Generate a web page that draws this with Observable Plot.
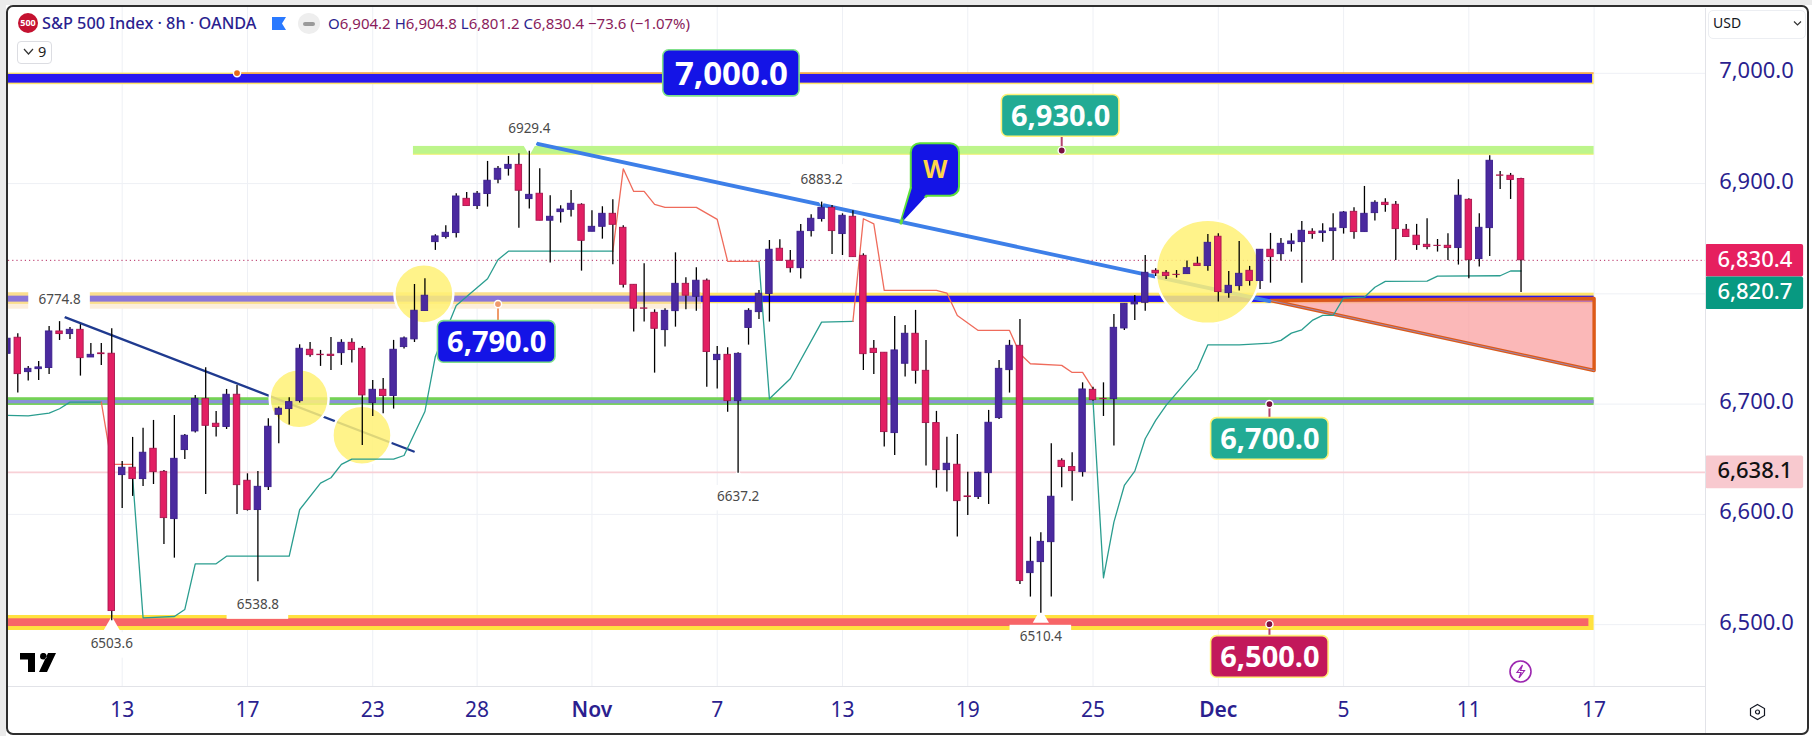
<!DOCTYPE html>
<html><head><meta charset="utf-8">
<script src="https://cdn.jsdelivr.net/npm/d3@7"></script>
<script src="https://cdn.jsdelivr.net/npm/@observablehq/plot@0.6"></script>
<style>
html,body{margin:0;padding:0;background:#fff;width:1812px;height:742px;overflow:hidden}
#wrap{position:relative;width:1812px;height:742px;font-family:"Noto Sans",sans-serif}
#wrap svg.plot{display:block;position:absolute;left:0;top:0}
.ov{position:absolute;white-space:nowrap;line-height:1}
</style></head><body><div id="wrap"></div>
<script>
// ---------- data ----------
const firstBar = -11;
const opens = [6745.6,6760.2,6729.0,6731.7,6732.7,6765.9,6763.5,6767.4,6742.3,6746.0,6745.7,
6635.6,6642.3,6632.0,6659.5,6638.6,6595.7,6658.3,6675.2,6704.8,6682.2,6679.2,6708.5,
6630.5,6603.9,6624.7,6690.3,6695.5,6702.7,6749.3,6744.8,6744.8,6746.2,6755.6,6750.2,
6700.9,6713.0,6707.3,6751.7,6758.7,6784.4,6846.9,6851.5,6855.1,6886.2,6879.6,6890.5,
6903.5,6913.4,6917.0,6885.9,6890.8,6866.3,6874.1,6876.2,6880.8,6856.3,6860.8,6872.6,
6859.9,6808.2,6786.8,6782.8,6767.1,6784.3,6809.1,6797.3,6811.9,6739.9,6744.7,6702.7,
6769.0,6783.4,6799.8,6840.9,6830.0,6823.3,6856.9,6867.8,6878.0,6854.2,6869.9,6834.5,
6750.2,6746.6,6673.7,6736.6,6763.8,6730.2,6682.8,6640.1,6645.0,6616.3,6615.7,6637.4,
6687.3,6730.8,6752.9,6546.7,6556.7,6574.8,6648.6,6642.9,6638.3,6713.0,6704.8,6704.5,
6768.6,6790.4,6791.9,6820.9,6819.1,6817.3,6817.9,6827.3,6825.2,6851.8,6800.7,6807.0,
6820.9,6811.6,6840.0,6836.0,6845.1,6846.9,6856.3,6855.1,6856.9,6859.6,6874.4,6856.0,
6873.2,6882.6,6880.8,6858.1,6852.7,6844.5,6843.6,6843.6,6841.5,6885.3,6831.5,6859.6,
6907.4,6907.1,6904.2];
const closes = [6759.3,6727.2,6732.0,6733.3,6765.9,6763.5,6767.4,6741.7,6744.7,6745.3,6512.3,
6642.3,6632.0,6655.9,6638.3,6596.6,6650.4,6671.3,6704.8,6680.3,6679.2,6708.5,6626.5,
6603.9,6625.0,6679.5,6695.8,6701.8,6750.2,6744.4,6744.4,6743.6,6755.6,6749.0,6707.9,
6713.0,6707.3,6749.3,6759.6,6784.7,6798.3,6852.1,6855.4,6888.3,6879.6,6890.8,6902.6,
6913.4,6917.0,6893.5,6889.8,6866.3,6869.9,6876.5,6881.7,6848.1,6860.8,6872.6,6862.6,
6808.2,6786.5,6786.5,6768.3,6784.6,6809.1,6798.3,6811.9,6747.2,6744.7,6702.7,6745.6,
6784.6,6800.1,6840.0,6830.0,6823.3,6856.3,6868.1,6878.0,6856.9,6870.8,6833.3,6745.3,
6746.3,6674.6,6748.7,6763.8,6730.2,6682.8,6640.1,6645.9,6612.0,6615.7,6637.7,6683.1,
6732.0,6752.9,6539.5,6557.0,6575.1,6616.0,6642.9,6639.2,6713.3,6703.6,6704.5,6769.2,
6791.0,6792.2,6819.1,6818.5,6816.1,6817.1,6823.3,6825.2,6846.3,6801.6,6807.3,6818.2,
6811.6,6840.0,6833.3,6845.4,6847.5,6857.2,6854.2,6856.6,6859.3,6873.8,6856.0,6872.6,
6882.6,6880.5,6858.7,6851.5,6844.2,6842.4,6843.4,6841.5,6889.0,6830.6,6859.9,6920.7,
6907.1,6903.2,6830.4];
const highs = [6765,6763.8,6734.2,6738.7,6770.4,6774.8,6769.5,6772,6755,6755,6768.3,
6648,6669.8,6678,6685.2,6639.8,6689.7,6672.5,6707.9,6733,6693.4,6713.3,6716.9,
6636.8,6638.9,6686.7,6697.3,6705.8,6753.8,6755.9,6748.7,6760.5,6758.4,6759.3,6752.3,
6721.5,6723.3,6757.8,6760.8,6808.5,6813.7,6853.6,6861.7,6890.8,6892,6892.9,6920.1,
6915.5,6924.6,6927,6929.4,6913.4,6888.9,6879.9,6893.8,6881.7,6875.3,6879,6885.3,
6861.7,6808.2,6827.3,6785.5,6786.5,6837.2,6814.6,6823.6,6813.4,6752.3,6751.1,6746.6,
6786.5,6803.1,6848.4,6849,6839.4,6862.9,6871.7,6883.2,6880.2,6872.6,6875.3,6836.3,
6757.8,6746.6,6779.5,6771.3,6785,6757.8,6693.4,6670,6672.5,6638.3,6638.3,6694.3,
6739.6,6757.8,6776.8,6579.4,6583.3,6664,6650.4,6655.9,6719.3,6715.4,6719.3,6781.3,
6791,6798.6,6834.8,6822.7,6821.2,6821.2,6829.7,6833.3,6853.9,6854.5,6820.3,6847.5,
6824.9,6840,6854.8,6850.2,6854.5,6865.7,6859,6863.6,6872.6,6874.7,6878,6897.4,
6884.4,6886.2,6883.8,6863,6863,6868.1,6849.3,6854.5,6903.5,6886.2,6872.6,6925.2,
6911,6909.2,6904.8];
const lows = [6740,6710,6720.9,6721.5,6726.9,6757.7,6758.7,6725.4,6742.3,6735.1,6503.6,
6605.4,6616.3,6625.3,6627.1,6572.7,6560.3,6649.8,6673.7,6618.1,6670.1,6677,6600,
6603,6538.8,6621.7,6664,6681,6701,6742.6,6734.2,6730.5,6735.1,6737.2,6662.5,
6688.8,6691.2,6695.5,6749.9,6755.9,6784.4,6839.4,6849.7,6850.6,6879.6,6876.6,6878.7,
6899.8,6906.8,6859.6,6876.9,6866.3,6827.9,6864.2,6869.6,6820.6,6856.3,6849.6,6826.4,
6805.2,6765.3,6774.4,6728.1,6751.7,6769.8,6785.5,6784.3,6715.4,6713.6,6692.7,6637.2,
6753.5,6776.8,6774.4,6830,6818.8,6813.4,6851.5,6865.1,6835.7,6834.8,6833.3,6730.5,
6726.9,6661,6653.4,6724.5,6718.1,6643.8,6623.8,6620.2,6579.4,6599,6613.5,6609,
6686.1,6710,6536.4,6525,6510.4,6525,6624.1,6612,6633.8,6702.7,6688.8,6661.9,
6766.8,6775.9,6784.3,6815.8,6813.1,6814.3,6817.9,6825.2,6820.6,6792.5,6796.1,6802.5,
6807,6804,6809.7,6829.7,6837.9,6809.7,6849.6,6846.9,6830.3,6854.2,6849.6,6856,
6866,6874.1,6830.3,6851.5,6839.4,6840,6837.9,6830.3,6826.1,6813.7,6824.3,6833.9,
6894.7,6885.6,6801.2];

const stopUpBars   = [-11,-9,-7,-6,-5,-2, 1,2,5,6,7,9,10,16,17,19,20,21,22,26,27,29,30,32,35,36,37,47, 61,62,64,67,70, 93,94,95,96,97,98,99,100,103,104,107,110,111,112,113,114,115,116,117,119,120,121,125,126,132,133,134];
const stopUpPrices = [6689.7,6689.4,6691.8,6695.8,6701.8,6701.8, 6633.8,6506.2,6507.4,6513.8,6555.2,6555.2,6562.1,6562.1,6604.2,6628.3,6633.2,6645.3,6650.1,6650.1,6653.4,6693.3,6743.2,6789.5,6813.7,6830.9,6838.7,6838.7, 6829.4,6704.8,6723,6774.4,6775, 6703.3,6542.5,6593,6626.2,6639.2,6668.6,6685.2,6698.8,6732,6753.8,6753.8,6755.3,6757.8,6764.4,6767.4,6775.9,6780.4,6780.4,6796.1,6797,6806,6811.3,6811.5,6816.1,6816.4,6820.7,6820.7];
const stopUpRuns   = [1,1,1,1,1,1, 2,2,2,2,2,2,2,2,2,2,2,2,2,2,2,2,2,2,2,2,2,2, 3,3,3,3,3, 4,4,4,4,4,4,4,4,4,4,4,4,4,4,4,4,4,4,4,4,4,4,4,4,4,4,4];
const stopDownBars   = [-2,-1,1, 47,48,49,50,51,52,55,57,58,61, 70,71,72,73,78,79,80,82,85,86,87,90,91,92,93];
const stopDownPrices = [6701.8,6645.3,6645.3, 6838.7,6913.4,6892.9,6892.9,6881.1,6878.4,6878.4,6867.5,6829.4,6829.4, 6775,6868.1,6863.5,6803.1,6803.1,6800.7,6780.4,6766.8,6766.8,6745.6,6736.6,6735.1,6728.7,6728.7,6713.9];
const stopDownRuns   = [1,1,1, 2,2,2,2,2,2,2,2,2,2, 3,3,3,3,3,3,3,3,3,3,3,3,3,3,3];

const axisPrices = [6500,6600,6700,6800,6900,7000];
const tickBars   = [0,12,24,34,57,69,81,93,117,129,141];
const tickNames  = ["13","17","23","28","7","13","19","25","5","11","17"];
const monthBars  = [45,105];
const monthNames = ["Nov","Dec"];

const lastClose = 6830.4, fibLine = 6638.1;
const tagBars = [156.4,156.4,156.4];
const tagPrices = [6830.0,6800.5,6638.1];
const tagTexts = ["6,830.4","6,820.7","6,638.1"];

const highBars   = [39,67,-6];
const highPrices = [6929.4,6883.2,6774.8];
const highTexts  = ["6929.4","6883.2","6774.8"];
const lowBars    = [59,13,-1,88];
const lowPrices  = [6637.2,6538.8,6503.6,6510.4];
const lowTexts   = ["6637.2","6538.8","6503.6","6510.4"];

const circleBars   = [28.9,16.95,22.97,104];
const circlePrices = [6800,6704.9,6671.8,6820];
const navyBars = [-5.5,27.93],  navyPrices = [6778.9,6657];
const blueBars = [39.8,109.9],  bluePrices = [6936.1,6793.4];
const wedgeBars = [110,141,141,110], wedgePrices = [6794,6795.8,6730.5,6794];

const xStart = -10.89, xEnd = 151.67, bandEnd = 141;
const calloutTexts  = ["7,000.0","6,790.0","6,930.0","6,700.0","6,500.0"];
const calloutBars   = [58.36,35.88,89.9,109.94,109.94];
const calloutPrices = [7000,6756.4,6961.4,6668.4,6470.7];
const anchorBars    = [11,36,90,109.9,109.9];
const anchorPrices  = [7000.2,6790.7,6930,6700,6500.4];
const stemEnds      = [7000.2,6775.2,6942.8,6687.3,6489.5];
const bubbleBar = 77.9, bubblePrice = 6912.4, bubbleTipBar = 74.6, bubbleTipPrice = 6864.1;

// ---------- tables ----------
const candles = opens.map((o,k)=>({bar:firstBar+k,o,h:highs[k],l:lows[k],c:closes[k],up:closes[k]>=o}));
const upStop = stopUpBars.map((b,k)=>({b,p:stopUpPrices[k],z:stopUpRuns[k]}));
const downStop = stopDownBars.map((b,k)=>({b,p:stopDownPrices[k],z:stopDownRuns[k]}));
const highTable = highBars.map((b,k)=>({b,p:highPrices[k],t:highTexts[k]}));
const lowTable = lowBars.map((b,k)=>({b,p:lowPrices[k],t:lowTexts[k]}));
const circles = circleBars.map((b,k)=>({b,p:circlePrices[k]}));
const zipXY = (xs,ys)=>xs.map((b,k)=>({b,p:ys[k]}));
const callouts = calloutTexts.map((t,k)=>({t,b:calloutBars[k],p:calloutPrices[k],ab:anchorBars[k],ap:anchorPrices[k],se:stemEnds[k]}));

const band = (x1,x2,y1,y2,fill,extra={}) => Plot.rect([{}],{x1:()=>x1,x2:()=>x2,y1:()=>y1,y2:()=>y2,fill,...extra});
const callout = (k,fill,edge,hw,hh,size) => {
  const d=[callouts[k]];
  return [
    Plot.rect(d,{x1:v=>v.b-hw,x2:v=>v.b+hw,y1:v=>v.p-hh,y2:v=>v.p+hh,fill,stroke:edge,strokeWidth:1.6,rx:6}),
    Plot.text(d,{x:"b",y:"p",text:"t",fill:"#fff",fontSize:size,fontWeight:700,dy:1})
  ];
};
const stem = (k,color,dot) => {
  const d=[callouts[k]];
  return [
    Plot.ruleX(d,{x:"ab",y1:"ap",y2:"se",stroke:color,strokeWidth:2}),
    Plot.dot(d,{x:"ab",y:"ap",r:3.6,fill:dot,stroke:"#fff",strokeWidth:1.4})
  ];
};

const G = "#ffe56a";
const chart = Plot.plot({
  width:1812,height:742,marginLeft:8,marginRight:107,marginTop:6,marginBottom:56,
  style:{fontFamily:'"Noto Sans",sans-serif',background:"transparent",overflow:"visible"},
  x:{type:"linear",domain:[xStart,xEnd],axis:null},
  y:{type:"linear",domain:[6443.9,7060.6],axis:null},
  marks:[
    Plot.gridX({ticks:[...tickBars,...monthBars],stroke:"#eef0f5",strokeOpacity:1}),
    Plot.gridY({ticks:axisPrices,stroke:"#eef0f5",strokeOpacity:1}),
    Plot.axisY({anchor:"right",ticks:axisPrices,tickFormat:d3.format(",.1f"),tickSize:0,tickPadding:51,textAnchor:"middle",fontSize:22,color:"#2b1f8f",label:null,dy:-2}),
    Plot.axisX({anchor:"bottom",ticks:tickBars,tickFormat:b=>tickNames[tickBars.indexOf(b)],tickSize:0,tickPadding:16,fontSize:21,color:"#2b1f8f",label:null}),
    Plot.axisX({anchor:"bottom",ticks:monthBars,tickFormat:b=>monthNames[monthBars.indexOf(b)],tickSize:0,tickPadding:16,fontSize:21,fontWeight:600,color:"#2b1f8f",label:null}),
    Plot.ruleY([fibLine],{stroke:"#f8d0d6",strokeWidth:1.6}),
    Plot.ruleY([lastClose],{stroke:"#b52a60",strokeWidth:1,strokeDasharray:"1.2 3"}),

    // 7000 band
    band(xStart,bandEnd,6989.7,7000.2,G),
    band(xStart,bandEnd-0.15,6991.1,6999,"#2a17f0"),
    Plot.ruleY([7000.3],{x1:()=>anchorBars[0],x2:()=>bandEnd,stroke:"#f07f28",strokeWidth:1}),
    // 6930 band
    band(27.9,bandEnd,6926.4,6933.7,"#bdf58b"),
    Plot.ruleY([6926.6],{x1:()=>27.9,x2:()=>bandEnd,stroke:"#eef06a",strokeWidth:1}),
    // 6790 band, left and right parts
    band(xStart,55.5,6786.1,6790.4,"#fdeedb"),
    band(xStart,55.5,6790.4,6801,"#fbde8e"),
    band(xStart,55.5,6792.5,6797.9,"#8a75d8"),
    band(55.5,bandEnd,6791,6800.6,G),
    band(55.5,bandEnd,6792.2,6797.9,"#2a17f0"),
    // 6700 band
    band(xStart,bandEnd,6698.8,6705.8,"#74d256"),
    band(xStart,bandEnd,6700.3,6703.3,"#8b92d8"),
    // 6500 band
    band(xStart,bandEnd,6494.7,6508.3,"#ffe23f"),
    band(xStart,bandEnd-0.5,6498.3,6505.3,"#f76568"),
    // wedge
    Plot.line(zipXY(wedgeBars,wedgePrices),{x:"b",y:"p",fill:"#fa9a9a",fillOpacity:0.7,stroke:"#dd5a18",strokeWidth:3.4}),
    Plot.line(zipXY(wedgeBars.slice(2),wedgePrices.slice(2)),{x:"b",y:"p",stroke:"#8b92d8",strokeWidth:0.8}),
    // trend lines
    Plot.line(zipXY(navyBars,navyPrices),{x:"b",y:"p",stroke:"#1f3a8f",strokeWidth:2.2}),
    Plot.line(zipXY(blueBars,bluePrices),{x:"b",y:"p",stroke:"#3d7fe8",strokeWidth:3.8}),
    // circles
    Plot.dot(circles.slice(0,3),{x:"b",y:"p",r:29.5,fill:"#fff176",fillOpacity:0.85,stroke:"#fff",strokeWidth:2.4}),
    Plot.dot(circles.slice(3),{x:"b",y:"p",r:52,fill:"#fff176",fillOpacity:0.85,stroke:"#fff",strokeWidth:2.4}),
    // white label backgrounds and pointer notches
    Plot.rect(highTable,{x1:d=>d.b-2.95,x2:d=>d.b+2.95,y1:d=>d.p+11,y2:d=>d.p+34,fill:"#fff"}),
    Plot.rect(lowTable,{x1:d=>d.b-2.95,x2:d=>d.b+2.95,y1:d=>d.p-11,y2:d=>d.p-34,fill:"#fff"}),
    Plot.dot(highTable,{x:"b",y:"p",symbol:"triangle",r:6,fill:"#fff",rotate:180,dy:-5}),
    Plot.dot(lowTable,{x:"b",y:"p",symbol:"triangle",r:6,fill:"#fff",dy:5}),
    // stop lines
    Plot.line(upStop,{x:"b",y:"p",z:"z",stroke:"#2a9d8f",strokeWidth:1.3}),
    Plot.line(downStop,{x:"b",y:"p",z:"z",stroke:"#ef6b5b",strokeWidth:1.3}),
    // candles
    Plot.ruleX(candles,{x:"bar",y1:"l",y2:"h",stroke:"#000",strokeWidth:1.3,clip:true}),
    Plot.rect(candles,{x1:d=>d.bar-0.31,x2:d=>d.bar+0.31,y1:"o",y2:"c",fill:d=>d.up?"#4b2a9f":"#e21f63",stroke:d=>d.up?"#3b1f8c":"#a8164e",strokeWidth:0.9,clip:true}),
    // extreme labels
    Plot.text(highTable,{x:"b",y:"p",text:"t",dy:-22,fill:"#4a4a4a",fontSize:13.5}),
    Plot.text(lowTable,{x:"b",y:"p",text:"t",dy:23,fill:"#4a4a4a",fontSize:13.5}),
    // callouts
    stem(0,"#f07f28","#e86a1c"),stem(1,"#ef9a6a","#ef9a6a"),stem(2,"#b5446e","#7a1040"),stem(3,"#b5446e","#7a1040"),stem(4,"#b5446e","#7a1040"),
    callout(0,"#1414e6","#7fe08a",6.53,20.9,33),
    callout(1,"#1414e6","#7fe08a",5.63,18.9,29),
    callout(2,"#22ab94","#fff27a",5.63,18.9,29),
    callout(3,"#22ab94","#fff27a",5.63,18.9,29),
    callout(4,"#c2185b","#fff27a",5.63,18.9,29),
    // W bubble
    Plot.line(zipXY([bubbleTipBar,bubbleBar-2.31,bubbleBar-0.9],[bubbleTipPrice,bubblePrice-16,bubblePrice-23.8]),{x:"b",y:"p",fill:"#1414e6",stroke:"#5fe03c",strokeWidth:3}),
    Plot.rect([0],{x1:()=>bubbleBar-2.31,x2:()=>bubbleBar+2.31,y1:()=>bubblePrice-23.8,y2:()=>bubblePrice+23.8,fill:"#1414e6",stroke:"#5fe03c",strokeWidth:2,rx:9}),
    Plot.line(zipXY([bubbleTipBar+0.1,bubbleBar-2.2,bubbleBar-0.9],[bubbleTipPrice+3,bubblePrice-15,bubblePrice-22.5]),{x:"b",y:"p",fill:"#1414e6"}),
    Plot.text(["W"],{x:()=>bubbleBar,y:()=>bubblePrice,text:d=>d,fill:"#ffd54a",fontSize:25,fontWeight:700}),
    // price tags
    Plot.rect([0],{x1:()=>xEnd,x2:()=>161.07,y1:()=>tagPrices[0]-14.8,y2:()=>tagPrices[0]+14.8,fill:"#e6205f",rx:2}),
    Plot.rect([0],{x1:()=>xEnd,x2:()=>161.07,y1:()=>tagPrices[1]-14.8,y2:()=>tagPrices[1]+14.8,fill:"#089981",rx:2}),
    Plot.rect([0],{x1:()=>xEnd,x2:()=>161.07,y1:()=>tagPrices[2]-14.8,y2:()=>tagPrices[2]+14.8,fill:"#f8c9cf",rx:2}),
    Plot.text(tagTexts,{x:(d,k)=>tagBars[k],y:(d,k)=>tagPrices[k],text:d=>d,fontSize:22,fontWeight:500,dy:-1,fill:(d,k)=>k<2?"#fff":"#111"})
  ]
});
const wrap=document.getElementById("wrap");
wrap.appendChild(chart);

// ---------- TradingView-like chrome around the chart ----------
const N="#2b1f8f",M="#8a1c5b";
const gap='<span style="display:inline-block;width:4px"></span>';
const ohlc=[["O","6,904.2"],["H","6,904.8"],["L","6,801.2"],["C","6,830.4"]]
  .map(([a,b])=>`<span style="color:${N}">${a}</span><span style="color:${M}">${b}</span>`).join(gap);
wrap.insertAdjacentHTML("beforeend",`
<div class="ov" style="left:0;top:0;width:1812px;height:5px;background:#ebebeb"></div>
<div class="ov" style="left:0;top:0;width:6px;height:736px;background:#ebebeb"></div>
<div class="ov" style="left:6px;top:5px;width:1799px;height:726px;border:2.5px solid #2e2e2e;border-radius:7px"></div>
<div class="ov" style="left:8px;top:686px;width:1697px;height:1px;background:#e2e3e8"></div>
<div class="ov" style="left:1705px;top:8px;width:1px;height:725px;background:#e2e3e8"></div>
<div class="ov" style="left:18px;top:13px;width:20px;height:20px;border-radius:50%;background:#c41230;color:#fff;font-size:9px;font-weight:700;text-align:center;line-height:20px">500</div>
<div class="ov" style="left:42px;top:15px;font-size:16.3px;font-weight:500;color:${N}">S&amp;P 500 Index · 8h · OANDA</div>
<svg class="ov" style="left:272px;top:17px" width="14" height="13"><path d="M0 0H14L10 6.5 14 13H0Z" fill="#2979ff"/></svg>
<div class="ov" style="left:298px;top:13px;width:22px;height:21px;border-radius:50%;background:#eeeeee"></div>
<div class="ov" style="left:303px;top:22px;width:12px;height:4px;border-radius:2px;background:#9a9a9a"></div>
<div class="ov" style="left:328px;top:16px;font-size:15px">${ohlc}${gap}<span style="color:${M}">−73.6 (−1.07%)</span></div>
<div class="ov" style="left:17px;top:41px;width:33px;height:21px;border:1px solid #dcdde2;border-radius:4px"></div>
<svg class="ov" style="left:23px;top:47px" width="11" height="9"><path d="M1 2L5.5 7 10 2" fill="none" stroke="#333" stroke-width="1.2"/></svg>
<div class="ov" style="left:38px;top:44px;font-size:14.5px;color:#222">9</div>
<div class="ov" style="left:1708px;top:10px;width:96px;height:27px;border:1px solid #eceef2;border-radius:5px;background:#fff"></div>
<div class="ov" style="left:1713px;top:16px;font-size:14px;color:#131722">USD</div>
<svg class="ov" style="left:1793px;top:20px" width="9" height="7"><path d="M1 1.5L4.5 5 8 1.5" fill="none" stroke="#333" stroke-width="1.2"/></svg>
<svg class="ov" style="left:20px;top:653px" width="36" height="19" viewBox="0 0 36 19"><path d="M0 0H15V19H8V6.5H0ZM20 3.2a3.3 3.3 0 1 0 6.6 0a3.3 3.3 0 1 0-6.6 0ZM28 0H36L27 19H19Z" fill="#000"/></svg>
<svg class="ov" style="left:1508px;top:659px" width="25" height="25"><circle cx="12.5" cy="12.5" r="10.5" fill="none" stroke="#9c27b0" stroke-width="1.6"/><path d="M14.5 6L9 13.5h4L11 19l5.5-7.5h-4Z" fill="none" stroke="#9c27b0" stroke-width="1.2"/></svg>
<svg class="ov" style="left:1749px;top:703px" width="17" height="18"><path d="M8.5 1.5L15.5 5.5V12.5L8.5 16.5 1.5 12.5V5.5Z" fill="none" stroke="#131722" stroke-width="1.2"/><circle cx="8.5" cy="9" r="2" fill="none" stroke="#131722" stroke-width="1.2"/></svg>
`);
</script></body></html>
